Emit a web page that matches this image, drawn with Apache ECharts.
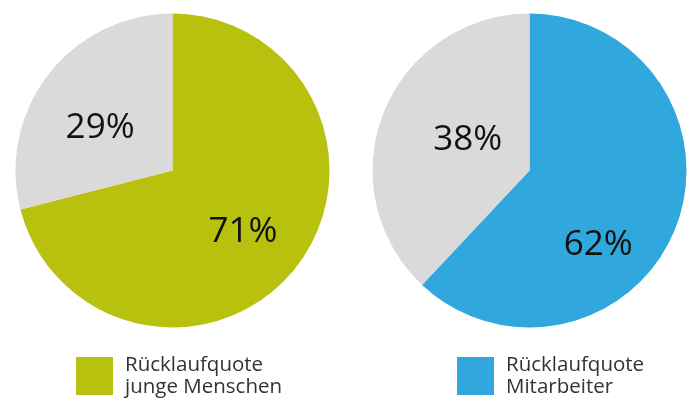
<!DOCTYPE html>
<html><head><meta charset="utf-8">
<script src="https://cdn.jsdelivr.net/npm/echarts@6/dist/echarts.min.js"></script>
<style>html,body{margin:0;padding:0;background:#fff}#c{width:689px;height:400px}</style>
</head><body><div id="c"></div>
<script>
const pieNames = ['Rücklaufquote\njunge Menschen', 'Rücklaufquote\nMitarbeiter'];
const restNames = ['Rest junge Menschen', 'Rest Mitarbeiter'];
const quoteValues = [71, 62];
const restValues = [29, 38];
const mainColors = ['#b9c10f', '#30a8de'];
const greyColor = '#dadada';

const centers = [[172.5, 170.5], [529.5, 170.5]];
const labelOffsets = [[[6, 12], [-8, 7]], [[-7, 45], [14, 0]]];
const legendLeft = [71, 452];

const chart = echarts.init(document.getElementById('c'));
const series = [0, 1].map(i => ({
  type: 'pie',
  center: centers[i],
  radius: 157,
  startAngle: 90,
  clockwise: true,
  silent: true,
  label: {
    show: true, position: 'inside',
    formatter: '{c}%',
    fontFamily: 'Open Sans', fontSize: 35, color: '#111'
  },
  labelLine: { show: false },
  emphasis: { disabled: true },
  data: [
    { name: pieNames[i], value: quoteValues[i], itemStyle: { color: mainColors[i] }, label: { offset: labelOffsets[i][0] } },
    { name: restNames[i], value: restValues[i], itemStyle: { color: greyColor }, label: { offset: labelOffsets[i][1] } }
  ]
}));
const legends = [0, 1].map(i => ({
  data: [pieNames[i]],
  left: legendLeft[i], top: 349,
  orient: 'vertical',
  icon: 'rect',
  itemWidth: 37, itemHeight: 38,
  selectedMode: false,
  textStyle: { fontFamily: 'Open Sans', fontSize: 20.5, color: '#333', lineHeight: 22, padding: [0, 0, 0, 7] }
}));
chart.setOption({ animation: false, legend: legends, series: series });
</script></body></html>
